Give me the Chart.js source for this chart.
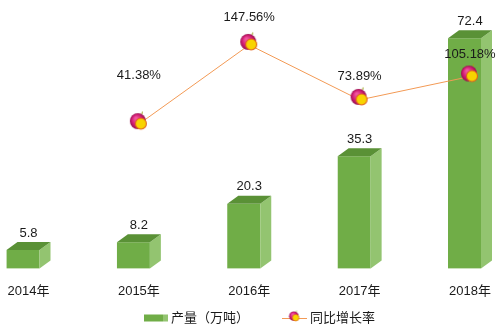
<!DOCTYPE html>
<html>
<head>
<meta charset="utf-8">
<script src="https://cdn.jsdelivr.net/npm/chart.js@4.4.0/dist/chart.umd.min.js"></script>
<style>
  html, body { margin: 0; background: #fff; }
  #wrap { width: 500px; height: 334px; }
</style>
</head>
<body>
<div id="wrap"><canvas id="chart"></canvas></div>
<script>
// data
const years = ["2014年", "2015年", "2016年", "2017年", "2018年"];
const output = [5.8, 8.2, 20.3, 35.3, 72.4];
const growth = [null, 41.38, 147.56, 73.89, 105.18];
const seriesNames = ["产量（万吨）", "同比增长率"];

const FONT = '"Liberation Sans", "Noto Sans CJK SC", Arial, sans-serif';
const TEXT = "#1a1a1a";
const GREEN = "#70ad47", GREEN_SIDE = "#93c470", GREEN_TOP = "#5a9136";
const LINE = "#f39a55";
const DX = 11, DY = 8; // depth of the 3d bars

// marker: magenta ball with a yellow disc
function makeMarker(scale) {
  const s = scale || 1;
  const c = document.createElement("canvas");
  c.width = 30 * s; c.height = 30 * s;
  const g = c.getContext("2d");
  g.scale(s, s);
  g.strokeStyle = "#9aa21e"; g.lineWidth = 1;
  g.beginPath(); g.moveTo(18.5, 2.5); g.lineTo(18, 5); g.stroke();
  const rg = g.createRadialGradient(12, 9, 1, 14, 12, 8);
  rg.addColorStop(0, "#f0569f");
  rg.addColorStop(0.6, "#d21d74");
  rg.addColorStop(1, "#98104f");
  g.fillStyle = rg;
  g.beginPath(); g.arc(14, 12, 8, 0, Math.PI * 2); g.fill();
  g.fillStyle = "#f8d400"; g.strokeStyle = "#e0621c"; g.lineWidth = 1.1;
  g.beginPath(); g.arc(17, 14.5, 5.5, 0, Math.PI * 2); g.fill(); g.stroke();
  return c;
}
const marker = makeMarker(1);
const legendMarker = makeMarker(0.6);

// 3d bar faces: clip the library bar to its front face, then add side and top
const bars3d = {
  id: "bars3d",
  beforeDatasetDraw(chart, args) {
    if (args.index !== 0) return;
    const ctx = chart.ctx;
    ctx.save();
    ctx.beginPath();
    args.meta.data.forEach(b => {
      const l = b.x - b.width / 2, fr = b.x + b.width / 2 - DX;
      ctx.rect(l, b.y, fr - l, b.base - b.y);
    });
    ctx.clip();
  },
  afterDatasetDraw(chart, args) {
    if (args.index !== 0) return;
    const ctx = chart.ctx;
    ctx.restore();
    args.meta.data.forEach(b => {
      const l = b.x - b.width / 2, r = b.x + b.width / 2, fr = r - DX;
      ctx.fillStyle = GREEN_SIDE;
      ctx.beginPath();
      ctx.moveTo(fr, b.y); ctx.lineTo(r, b.y - DY); ctx.lineTo(r, b.base - DY); ctx.lineTo(fr, b.base);
      ctx.closePath(); ctx.fill();
      ctx.fillStyle = GREEN_TOP;
      ctx.beginPath();
      ctx.moveTo(l, b.y); ctx.lineTo(l + DX, b.y - DY); ctx.lineTo(r, b.y - DY); ctx.lineTo(fr, b.y);
      ctx.closePath(); ctx.fill();
    });
  }
};

// value labels
const valueLabels = {
  id: "valueLabels",
  afterDatasetsDraw(chart, args, opts) {
    const ctx = chart.ctx;
    ctx.save();
    ctx.font = "13px " + FONT;
    ctx.fillStyle = TEXT;
    ctx.textAlign = "center";
    ctx.textBaseline = "middle";
    chart.getDatasetMeta(0).data.forEach((b, i) => {
      ctx.fillText(String(output[i]), b.x, b.y - 17);
    });
    chart.getDatasetMeta(1).data.forEach((p, i) => {
      if (growth[i] == null) return;
      ctx.fillText(growth[i].toFixed(2) + "%", p.x, p.y - opts.lift[i]);
    });
    ctx.restore();
  }
};

// legend under the axis
const bottomLegend = {
  id: "bottomLegend",
  afterDraw(chart) {
    const ctx = chart.ctx;
    const y = 318;
    ctx.save();
    ctx.fillStyle = GREEN;
    ctx.fillRect(144, y - 3.5, 19, 7);
    ctx.fillStyle = GREEN_SIDE;
    ctx.fillRect(163, y - 3.5, 5, 7);
    ctx.strokeStyle = LINE; ctx.lineWidth = 1;
    ctx.beginPath(); ctx.moveTo(282, y + 0.5); ctx.lineTo(307, y + 0.5); ctx.stroke();
    ctx.drawImage(legendMarker, 294.5 - legendMarker.width / 2, y - legendMarker.height / 2);
    ctx.font = "13px " + FONT;
    ctx.fillStyle = TEXT;
    ctx.textBaseline = "middle";
    ctx.fillText(seriesNames[0], 171, y);
    ctx.fillText(seriesNames[1], 310, y);
    ctx.restore();
  }
};

const ctx = document.getElementById("chart").getContext("2d");
new Chart(ctx, {
  data: {
    labels: years,
    datasets: [
      {
        type: "bar",
        label: seriesNames[0],
        data: output,
        backgroundColor: GREEN,
        barThickness: 44,
        yAxisID: "y",
        order: 1,
        clip: false
      },
      {
        type: "line",
        label: seriesNames[1],
        data: growth,
        borderColor: LINE,
        borderWidth: 1,
        pointStyle: marker,
        pointRadius: 8,
        yAxisID: "y2",
        order: 0,
        clip: false
      }
    ]
  },
  options: {
    responsive: true,
    maintainAspectRatio: false,
    animation: false,
    events: [],
    layout: { padding: { left: 28.5, right: 30, top: 14, bottom: 32 } },
    scales: {
      x: {
        offset: false,
        grid: { display: false, drawTicks: true, tickLength: 12 },
        border: { display: false },
        ticks: { padding: 3, maxRotation: 0, autoSkip: false, color: TEXT, font: { family: FONT, size: 13 } }
      },
      y: { display: false, min: 0, max: 80 },
      y2: { display: false, min: -152, max: 189 }
    },
    plugins: {
      legend: { display: false },
      tooltip: { enabled: false },
      valueLabels: { lift: [0, 49, 27, 23, 22] }
    }
  },
  plugins: [bars3d, valueLabels, bottomLegend]
});
</script>
</body>
</html>
